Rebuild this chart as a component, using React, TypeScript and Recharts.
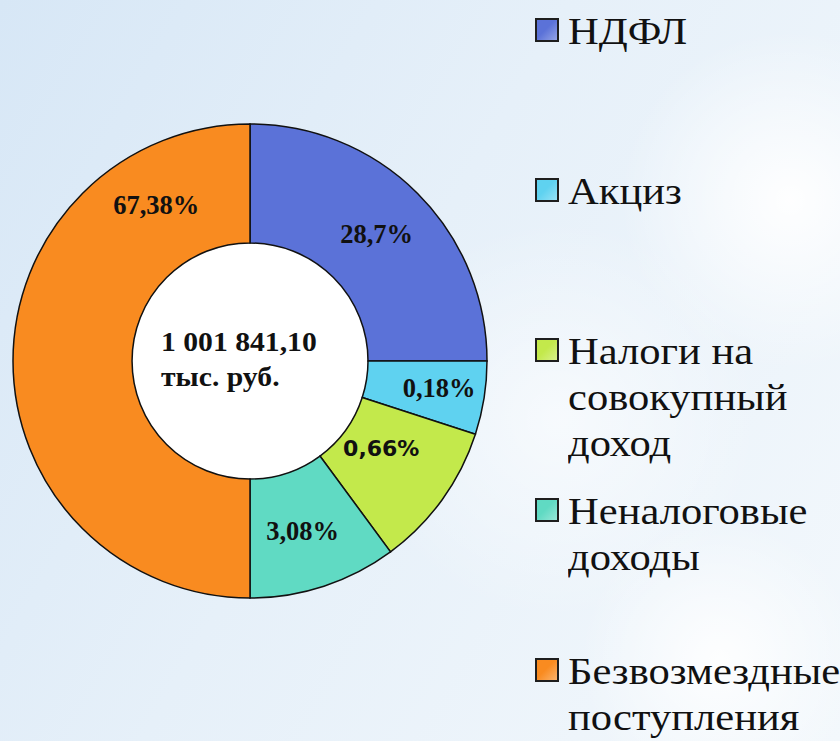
import React from 'react';
import { PieChart, Pie, Cell, Legend } from 'recharts';

const categories = ['НДФЛ', 'Акциз', 'Налоги на совокупный доход', 'Неналоговые доходы', 'Безвозмездные поступления'];
const sliceValues = [25, 5, 9.9, 10.1, 50];
const percentLabels = ['28,7%', '0,18%', '0,66%', '3,08%', '67,38%'];
const totalLines = ['1 001 841,10', 'тыс. руб.'];
const holeData = [{ name: 'hole', value: 1 }];

const SERIF = "'Liberation Serif', 'Times New Roman', serif";
const colors = ['#5b72d8', '#5fd2f0', '#c3e94b', '#60dac3', '#f98b20'];
const labelRadius = [179, 191, 158, 178, 182];
const labelAngleShift = [0, 1, 2, -1, -59];
const labelFont = [SERIF, SERIF, "'DejaVu Sans', Verdana, sans-serif", SERIF, SERIF];
const labelSize = [26.5, 26.5, 22, 26.5, 26.5];
const STRETCH = 1.12;

const data = categories.map((name, i) => ({ name, value: sliceValues[i], label: percentLabels[i] }));

const RAD = Math.PI / 180;

const renderLabel = (props: any) => {
  const { cx, cy, midAngle, index } = props;
  const a = (midAngle + labelAngleShift[index]) * RAD;
  const r = labelRadius[index];
  const x = cx + r * Math.cos(a);
  const y = cy - r * Math.sin(a);
  return (
    <g>
      <text
        x={x}
        y={y}
        textAnchor="middle"
        dominantBaseline="central"
        style={{ fontFamily: labelFont[index], fontWeight: 'bold', fontSize: labelSize[index] }}
        fill="#111"
      >
        {percentLabels[index]}
      </text>
      {index === 0 && (
        <g transform={`translate(${cx - 89}, ${cy}) scale(${STRETCH}, 1)`}>
          <text x={0} y={-10} style={{ fontFamily: SERIF, fontWeight: 'bold', fontSize: 26.5 }} fill="#111">
            {totalLines[0]}
          </text>
          <text x={0} y={25} style={{ fontFamily: SERIF, fontWeight: 'bold', fontSize: 26.5 }} fill="#111">
            {totalLines[1]}
          </text>
        </g>
      )}
    </g>
  );
};

const renderLegend = () => (
  <div style={{ width: 305 }}>
    {categories.map((name, i) => (
      <div key={name} style={{ height: 160, display: 'flex', alignItems: 'flex-start', paddingTop: 8, boxSizing: 'border-box' }}>
        <div
          style={{
            width: 20,
            height: 20,
            marginTop: 10,
            marginRight: 9,
            flex: '0 0 auto',
            border: '2px solid #1e1e1e',
            background: `linear-gradient(135deg, ${colors[i]} 0%, ${colors[i]} 45%, rgba(255,255,255,0.35) 100%), ${colors[i]}`,
          }}
        />
        <div
          style={{
            fontFamily: SERIF,
            fontSize: 38,
            lineHeight: '46px',
            color: '#111',
            width: 245,
            textAlign: 'left',
            transform: `scaleX(${STRETCH})`,
            transformOrigin: 'left top',
          }}
        >
          {name}
        </div>
      </div>
    ))}
  </div>
);

export default function App() {
  return (
    <div
      style={{
        position: 'absolute',
        left: 0,
        top: 0,
        width: 840,
        height: 741,
        overflow: 'hidden',
        background:
          'radial-gradient(circle at 790px 200px, rgba(255,255,255,0.95) 0px, rgba(255,255,255,0) 170px),' +
          'radial-gradient(circle at 720px 660px, rgba(255,255,255,0.9) 0px, rgba(255,255,255,0) 140px),' +
          'radial-gradient(circle at 560px 420px, rgba(255,255,255,0.6) 0px, rgba(255,255,255,0) 200px),' +
          'linear-gradient(120deg, #d7e7f6 0%, #e6f0f9 45%, #f3f8fc 100%)',
      }}
    >
      <PieChart width={840} height={741} margin={{ top: 0, right: 0, bottom: 0, left: 0 }}>
        <Pie
          data={holeData}
          dataKey="value"
          cx={250}
          cy={361}
          innerRadius={0}
          outerRadius={118}
          fill="#ffffff"
          stroke="none"
          isAnimationActive={false}
        />
        <Pie
          data={data}
          dataKey="value"
          nameKey="name"
          cx={250}
          cy={361}
          innerRadius={118}
          outerRadius={237}
          startAngle={90}
          endAngle={-270}
          stroke="#111"
          strokeWidth={1.5}
          label={renderLabel}
          labelLine={false}
          isAnimationActive={false}
        >
          {data.map((d, i) => (
            <Cell key={d.name} fill={colors[i]} />
          ))}
        </Pie>
        <Legend
          layout="vertical"
          verticalAlign="top"
          align="right"
          content={renderLegend}
          wrapperStyle={{ left: 535, top: 0, width: 305 }}
        />
      </PieChart>
    </div>
  );
}
